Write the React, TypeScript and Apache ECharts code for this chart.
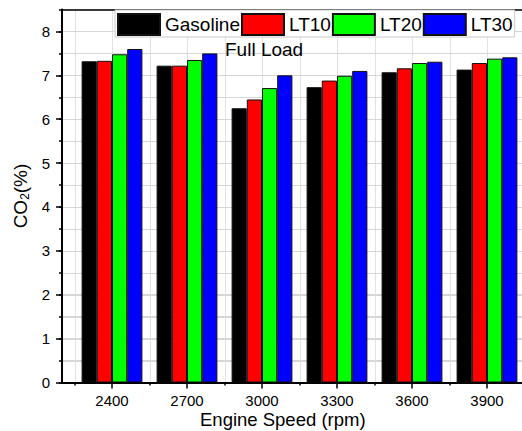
import React, { useEffect, useRef } from "react";
import * as echarts from "echarts";

const speeds = [2400, 2700, 3000, 3300, 3600, 3900];
const gridX = [2250, 2400, 2550, 2700, 2850, 3000, 3150, 3300, 3450, 3600, 3750, 3900];
const minorX = [2250, 2550, 2850, 3150, 3450, 3750];
const yMajor = [0, 1, 2, 3, 4, 5, 6, 7, 8];
const gridY = [0.5, 1, 1.5, 2, 2.5, 3, 3.5, 4, 4.5, 5, 5.5, 6, 6.5, 7, 7.5, 8];
const fuels = ["Gasoline", "LT10", "LT20", "LT30"];
const gasoline = [7.32, 7.22, 6.25, 6.73, 7.07, 7.13];
const lt10 = [7.33, 7.22, 6.45, 6.88, 7.16, 7.28];
const lt20 = [7.48, 7.35, 6.71, 6.99, 7.28, 7.38];
const lt30 = [7.6, 7.5, 7.0, 7.1, 7.31, 7.41];
const colors = ["#000000", "#ff0000", "#00ff00", "#0000ff"];

const FONT = "'Liberation Sans', Arial, sans-serif";
const X_MIN = 2200;
const X_MAX = 4040;
const Y_MIN = 0;
const Y_MAX = 8.5;

export default function App() {
  const ref = useRef<HTMLDivElement>(null);
  useEffect(() => {
    if (!ref.current) return;
    const chart = echarts.init(ref.current, null, { renderer: "svg" });
    const values = [gasoline, lt10, lt20, lt30];
    const bars = fuels.map((name, i) => ({
      name,
      type: "bar",
      xAxisIndex: 0,
      yAxisIndex: 0,
      barWidth: 15.2,
      barGap: "0%",
      itemStyle: { color: colors[i], borderColor: "#111", borderWidth: 1 },
      data: speeds.map((s, j) => [s, values[i][j]]),
      z: 10,
    }));
    chart.setOption({
      animation: false,
      backgroundColor: "#ffffff",
      textStyle: { fontFamily: FONT },
      grid: {
        left: 62,
        top: 9.5,
        right: 0,
        height: 373,
        show: false,
        outerBoundsMode: "none",
      },
      legend: {
        left: 115,
        top: 10,
        padding: [3, 2, 1, 2],
        itemWidth: 42,
        itemHeight: 21,
        itemGap: 1,
        itemTextGap: 6,
        icon: "rect",
        backgroundColor: "#ffffff",
        borderColor: "#c8c8c8",
        borderWidth: 1,
        borderRadius: 0,
        textStyle: { fontSize: 19, color: "#000", fontFamily: FONT },
        data: fuels,
        z: 20,
      },
      xAxis: [
        {
          type: "value",
          min: X_MIN,
          max: X_MAX,
          axisLine: { show: true, onZero: false, lineStyle: { color: "#000", width: 2 } },
          axisTick: { show: true, customValues: speeds, length: 6, lineStyle: { color: "#000", width: 1.5 } },
          axisLabel: {
            customValues: speeds,
            fontSize: 15,
            color: "#000",
            margin: 10,
            fontFamily: FONT,
            formatter: (v: number) => String(v),
          },
          splitLine: { show: false },
          z: 12,
        },
        {
          type: "value",
          min: X_MIN,
          max: X_MAX,
          position: "bottom",
          axisLine: { show: false },
          axisTick: { show: true, customValues: minorX, length: 3, lineStyle: { color: "#000", width: 1.5 } },
          axisLabel: { show: false },
          splitLine: { show: false },
        },
        {
          type: "value",
          min: X_MIN,
          max: X_MAX,
          position: "top",
          axisLine: { show: true, onZero: false, lineStyle: { color: "#000", width: 1.5 } },
          axisTick: { show: false },
          axisLabel: { show: false },
          splitLine: { show: false },
          z: 12,
        },
      ],
      yAxis: [
        {
          type: "value",
          min: Y_MIN,
          max: Y_MAX,
          position: "left",
          name: "CO{sub|2}(%)",
          nameLocation: "middle",
          nameGap: 28,
          nameTextStyle: {
            fontSize: 19,
            color: "#000",
            fontFamily: FONT,
            rich: {
              sub: { fontSize: 12, color: "#000", fontFamily: FONT, verticalAlign: "bottom", padding: [8, 0, 0, 0] },
            },
          },
          axisLine: { show: true, lineStyle: { color: "#000", width: 2 } },
          axisTick: { show: true, customValues: yMajor, length: 6, lineStyle: { color: "#000", width: 1.5 } },
          axisLabel: { customValues: yMajor, fontSize: 15, color: "#000", margin: 12, fontFamily: FONT },
          splitLine: { show: false },
          z: 12,
        },
        {
          type: "value",
          min: Y_MIN,
          max: Y_MAX,
          interval: 0.5,
          position: "left",
          offset: 0,
          axisLine: { show: false },
          axisTick: { show: true, length: 3, lineStyle: { color: "#000", width: 1.5 } },
          axisLabel: { show: false },
          splitLine: { show: true, lineStyle: { color: "#d6d6d6", width: 1 } },
        },
      ],
      graphic: [
        {
          type: "text",
          left: 225,
          top: 40,
          style: { text: "Full Load", fontSize: 19, fill: "#000", fontFamily: FONT },
          z: 100,
        },
        {
          type: "text",
          left: 200,
          top: 410,
          style: { text: "Engine Speed (rpm)", fontSize: 18.5, fill: "#000", fontFamily: FONT },
          z: 100,
        },
      ],
      series: [
        {
          name: "vgrid",
          type: "custom",
          xAxisIndex: 0,
          yAxisIndex: 0,
          silent: true,
          clip: false,
          z: 1,
          encode: { x: 0, y: 1 },
          data: gridX.map((v) => [v, Y_MIN]),
          renderItem: (_p: any, api: any) => {
            const x = api.value(0);
            const a = api.coord([x, Y_MIN]);
            const b = api.coord([x, Y_MAX]);
            return {
              type: "rect",
              shape: { x: Math.round(a[0]), y: b[1], width: 1, height: a[1] - b[1] },
              style: { fill: "#e2e2e2" },
            };
          },
        },
        {
          name: "hgrid",
          type: "custom",
          xAxisIndex: 0,
          yAxisIndex: 0,
          silent: true,
          clip: false,
          z: 1,
          encode: { x: 0, y: 1 },
          data: gridY.map((v) => [X_MIN, v]),
          renderItem: (_p: any, api: any) => {
            const y = api.value(1);
            const a = api.coord([X_MIN, y]);
            const b = api.coord([X_MAX, y]);
            return {
              type: "rect",
              shape: { x: a[0], y: Math.round(a[1]), width: b[0] - a[0], height: 1 },
              style: { fill: "#d6d6d6" },
            };
          },
        },
        ...bars,
      ],
    });
    return () => chart.dispose();
  }, []);
  return (
    <div
      ref={ref}
      style={{ position: "fixed", left: 0, top: 0, width: 522, height: 431, background: "#fff" }}
    />
  );
}
